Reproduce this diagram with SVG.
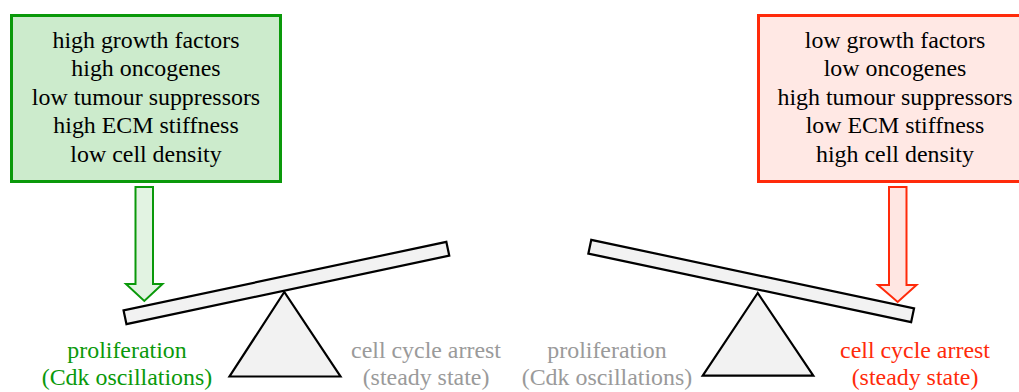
<svg xmlns="http://www.w3.org/2000/svg" width="1019" height="392" viewBox="0 0 1019 392">
<style>
text{font-family:"Liberation Serif","Times New Roman",serif;font-size:23.9px;text-anchor:middle}
.blk{fill:#000}
.grn{fill:#0a990a}
.red{fill:#ff2a0a}
.gry{fill:#9a9a9a}
.gbox{fill:#ccebcc;stroke:#0a990a;stroke-width:3}
.rbox{fill:#ffe8e4;stroke:#ff2a0a;stroke-width:3}
.garr{fill:#e2f3e2;stroke:#0a990a;stroke-width:2}
.rarr{fill:#ffe6e2;stroke:#ff2a0a;stroke-width:2}
.part{fill:#f2f2f2;stroke:#000;stroke-width:2.2;stroke-linejoin:miter}
</style>
<g id="box-proliferation">
<rect class="gbox" x="11.5" y="15.5" width="269" height="166"/>
<text class="blk" x="146" y="47.5">high growth factors</text>
<text class="blk" x="146" y="76">high oncogenes</text>
<text class="blk" x="146" y="104.5">low tumour suppressors</text>
<text class="blk" x="146" y="133">high ECM stiffness</text>
<text class="blk" x="146" y="161.5">low cell density</text>
</g>
<g id="box-arrest">
<rect class="rbox" x="758.5" y="15.5" width="273" height="166"/>
<text class="blk" x="895" y="47.5">low growth factors</text>
<text class="blk" x="895" y="76">low oncogenes</text>
<text class="blk" x="895" y="104.5">high tumour suppressors</text>
<text class="blk" x="895" y="133">low ECM stiffness</text>
<text class="blk" x="895" y="161.5">high cell density</text>
</g>
<g id="connectors">
<path class="garr" d="M135.5,187 H153 V284 H162.5 L144.3,301 L126,284 H135.5 Z"/>
<path class="rarr" d="M889,187 H906.5 V285 H916.5 L897.7,302 L878,285 H889 Z"/>
</g>
<g id="seesaw-left">
<rect class="part" x="-165" y="-7" width="330" height="14" transform="translate(286.4,283) rotate(-12)"/>
<polygon class="part" points="284.3,292 229.5,376.5 340.5,376.5"/>
<text class="grn" x="127" y="358">proliferation</text>
<text class="grn" x="127" y="385">(Cdk oscillations)</text>
<text class="gry" x="426" y="358">cell cycle arrest</text>
<text class="gry" x="426" y="385">(steady state)</text>
</g>
<g id="seesaw-right">
<rect class="part" x="-165" y="-7" width="330" height="14" transform="translate(751.2,281) rotate(12)"/>
<polygon class="part" points="757.7,293 702.7,375.7 813.3,375.7"/>
<text class="gry" x="607" y="358">proliferation</text>
<text class="gry" x="607" y="385">(Cdk oscillations)</text>
<text class="red" x="915" y="358">cell cycle arrest</text>
<text class="red" x="915" y="385">(steady state)</text>
</g>
</svg>
